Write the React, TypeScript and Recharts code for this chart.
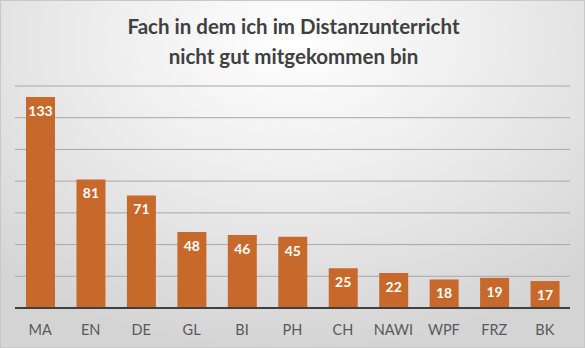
import React from "react";
import { BarChart, Bar, XAxis, YAxis, CartesianGrid, LabelList } from "recharts";

const categories = ["MA", "EN", "DE", "GL", "BI", "PH", "CH", "NAWI", "WPF", "FRZ", "BK"];
const values = [133, 81, 71, 48, 46, 45, 25, 22, 18, 19, 17];
const yTicks = [0, 20, 40, 60, 80, 100, 120, 140];
const titleLines = ["Fach in dem ich im Distanzunterricht", "nicht gut mitgekommen bin"];

const data = categories.map((c, i) => ({ name: c, value: values[i] }));

const FONT = "Lato, 'Noto Sans', sans-serif";

export default function App() {
  return (
    <div
      style={{
        position: "absolute",
        left: 0,
        top: 0,
        width: 585,
        height: 348,
        boxSizing: "border-box",
        border: "1px solid #C8C8C8",
        background: "radial-gradient(ellipse 75% 90% at 50% 12%, #FFFFFF 0%, #EDEDED 45%, #D4D4D4 100%)",
        fontFamily: FONT,
        overflow: "hidden",
      }}
    >
      <div
        style={{
          position: "absolute",
          left: 0,
          top: 10,
          width: 585,
          textAlign: "center",
          fontSize: 20.5,
          fontWeight: 700,
          color: "#404040",
          lineHeight: "30px",
        }}
      >
        {titleLines.map((t) => (
          <div key={t}>{t}</div>
        ))}
      </div>
      <div style={{ position: "absolute", left: -1, top: -1 }}>
        <BarChart
          width={585}
          height={348}
          data={data}
          margin={{ top: 86, right: 15, bottom: 0, left: 15 }}
          barSize={29}
        >
          <CartesianGrid vertical={false} stroke="#A8A8A8" strokeWidth={1} />
          <YAxis hide domain={[0, 140]} ticks={yTicks} />
          <XAxis
            dataKey="name"
            height={40}
            axisLine={{ stroke: "#404040", strokeWidth: 2 }}
            tickLine={false}
            tickMargin={11}
            tick={{ fill: "#595959", fontSize: 14.5, fontFamily: FONT }}
          />
          <Bar dataKey="value" fill="#C8692C" isAnimationActive={false}>
            <LabelList
              dataKey="value"
              position="insideTop"
              offset={9}
              fill="#FFFFFF"
              fontSize={14}
              fontWeight={700}
              fontFamily={FONT}
            />
          </Bar>
        </BarChart>
      </div>
    </div>
  );
}
